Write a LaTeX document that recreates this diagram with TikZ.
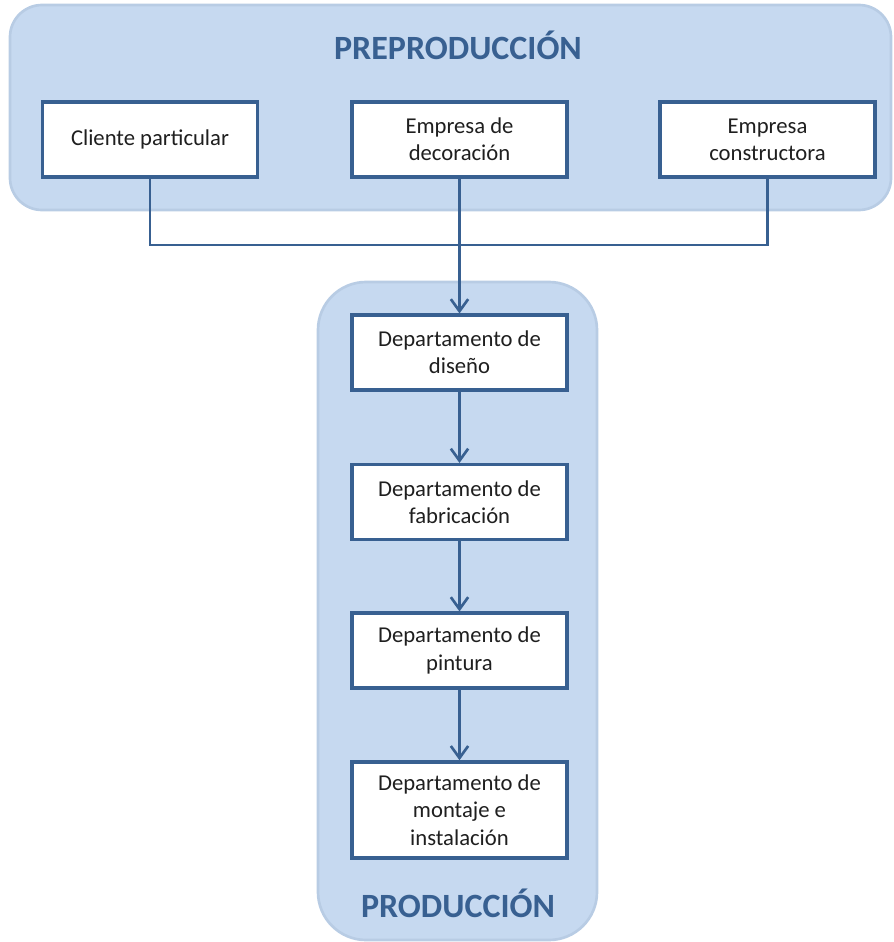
\documentclass[tikz,border=0pt]{standalone}
\usepackage{fontspec}
\setmainfont{Carlito}
\usetikzlibrary{arrows.meta}
\definecolor{panelfill}{RGB}{198,217,240}
\definecolor{paneledge}{RGB}{184,204,228}
\definecolor{darkblue}{RGB}{56,96,145}
\tikzset{
  panel/.style={fill=panelfill, draw=paneledge, line width=2pt},
  stagebox/.style={draw=darkblue, fill=white, line width=2.6pt, minimum width=161pt,
    minimum height=56pt, align=center, inner sep=2pt,
    font=\fontsize{17pt}{20.5pt}\selectfont, text=black!88},
  heading/.style={font=\fontsize{25.5pt}{30pt}\selectfont\bfseries, text=darkblue},
  link/.style={draw=darkblue, line width=2pt},
  flow/.style={link, -{Straight Barb[length=9pt,width=13pt,line width=2pt]}}
}
\begin{document}
\begin{tikzpicture}[x=0.75pt,y=-0.75pt]
\useasboundingbox (0,0) rectangle (893,942);

% stage panels
\draw[panel, rounded corners=24pt] (10,5) rectangle (891,210);
\draw[panel, rounded corners=36pt] (318,282) rectangle (597,940);

\node[heading] (pre) at (458,45) {PREPRODUCCIÓN};
\node[heading] (pro) at (458,903) {PRODUCCIÓN};

% clients
\node[stagebox] (cli) at (150,139.5) {Cliente particular};
\node[stagebox] (dec) at (459.5,139.5) {Empresa de\\decoración};
\node[stagebox] (con) at (767.5,139.5) {Empresa\\constructora};

% departments
\node[stagebox] (dis) at (459.5,352.5) {Departamento de\\diseño};
\node[stagebox] (fab) at (459.5,502) {Departamento de\\fabricación};
\node[stagebox] (pin) at (459.5,650.5) {Departamento de\\pintura};
\node[stagebox, minimum height=72pt] (mon) at (459.5,810) {Departamento de\\montaje e\\instalación};

% connectors
\coordinate (bus) at (459.5,245);
\draw[link] (cli.south) |- (bus) -| (con.south);
\draw[flow] (dec.south) -- (dis.north);
\draw[flow] (dis.south) -- (fab.north);
\draw[flow] (fab.south) -- (pin.north);
\draw[flow] (pin.south) -- (mon.north);
\end{tikzpicture}
\end{document}
